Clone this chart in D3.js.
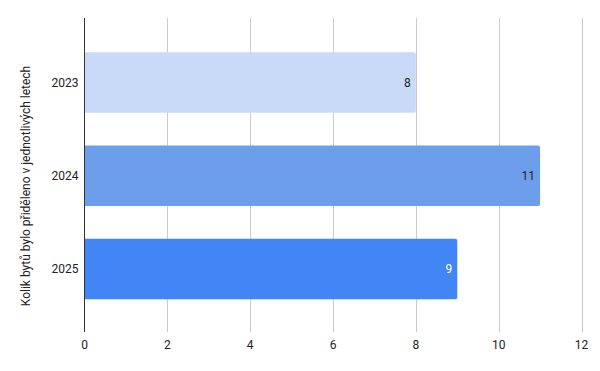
<!DOCTYPE html>
<html><head><meta charset="utf-8">
<script src="https://cdn.jsdelivr.net/npm/d3@7"></script>
<style>body{margin:0;background:#fff}svg{display:block;font-family:Roboto,Arial,sans-serif}</style>
</head><body>
<script>
const years = ["2023", "2024", "2025"];
const values = [8, 11, 9];
const colors = ["#c9daf8", "#6d9eeb", "#4285f4"];
const labelColors = ["#222", "#222", "#fff"];
const xTicks = [0, 2, 4, 6, 8, 10, 12];
const yTitle = "Kolik bytů bylo přiděleno v jednotlivých letech";

const W = 600, H = 371;
const m = {left: 84.5, right: 18.5, top: 18, bottom: 39};
const svg = d3.select("body").append("svg").attr("width", W).attr("height", H);
const x = d3.scaleLinear().domain([0, 12]).range([m.left, W - m.right]);
const y = d3.scaleBand().domain(years).range([m.top + 1.5, H - m.bottom]).paddingInner(0.35).paddingOuter(0.35);

// gridlines
svg.append("g").selectAll("line").data(xTicks.filter(d => d > 0)).join("line")
  .attr("x1", d => Math.round(x(d)) + 0.5).attr("x2", d => Math.round(x(d)) + 0.5)
  .attr("y1", m.top).attr("y2", H - m.bottom)
  .attr("stroke", "#cccccc").attr("stroke-width", 1);

// bars
const r = 2;
svg.append("g").selectAll("path").data(years).join("path")
  .attr("d", (d, i) => {
    const x0 = x(0), x1 = x(values[i]), y0 = y(d), y1 = y(d) + y.bandwidth();
    return `M${x0},${y0}H${x1 - r}Q${x1},${y0} ${x1},${y0 + r}V${y1 - r}Q${x1},${y1} ${x1 - r},${y1}H${x0}Z`;
  })
  .attr("fill", (d, i) => colors[i]);

// value labels
svg.append("g").selectAll("text").data(years).join("text")
  .attr("x", (d, i) => x(values[i]) - 5)
  .attr("y", d => y(d) + y.bandwidth() / 2)
  .attr("dy", "0.35em").attr("text-anchor", "end")
  .attr("font-size", 12).attr("fill", (d, i) => labelColors[i])
  .text((d, i) => values[i]);

// y axis line
svg.append("line").attr("x1", x(0)).attr("x2", x(0)).attr("y1", m.top).attr("y2", H - m.bottom)
  .attr("stroke", "#333").attr("stroke-width", 1);

// y labels
svg.append("g").selectAll("text").data(years).join("text")
  .attr("x", x(0) - 6).attr("y", d => y(d) + y.bandwidth() / 2)
  .attr("dy", "0.35em").attr("text-anchor", "end")
  .attr("font-size", 12).attr("fill", "#222").text(d => d);

// x tick labels
svg.append("g").selectAll("text").data(xTicks).join("text")
  .attr("x", d => x(d)).attr("y", 345).attr("dy", "0.35em")
  .attr("text-anchor", "middle").attr("font-size", 12).attr("fill", "#222").text(d => d);

// y title
svg.append("text").attr("transform", `translate(30,186) rotate(-90)`)
  .attr("text-anchor", "middle").attr("font-size", 12).attr("fill", "#222").text(yTitle);
</script>
</body></html>
